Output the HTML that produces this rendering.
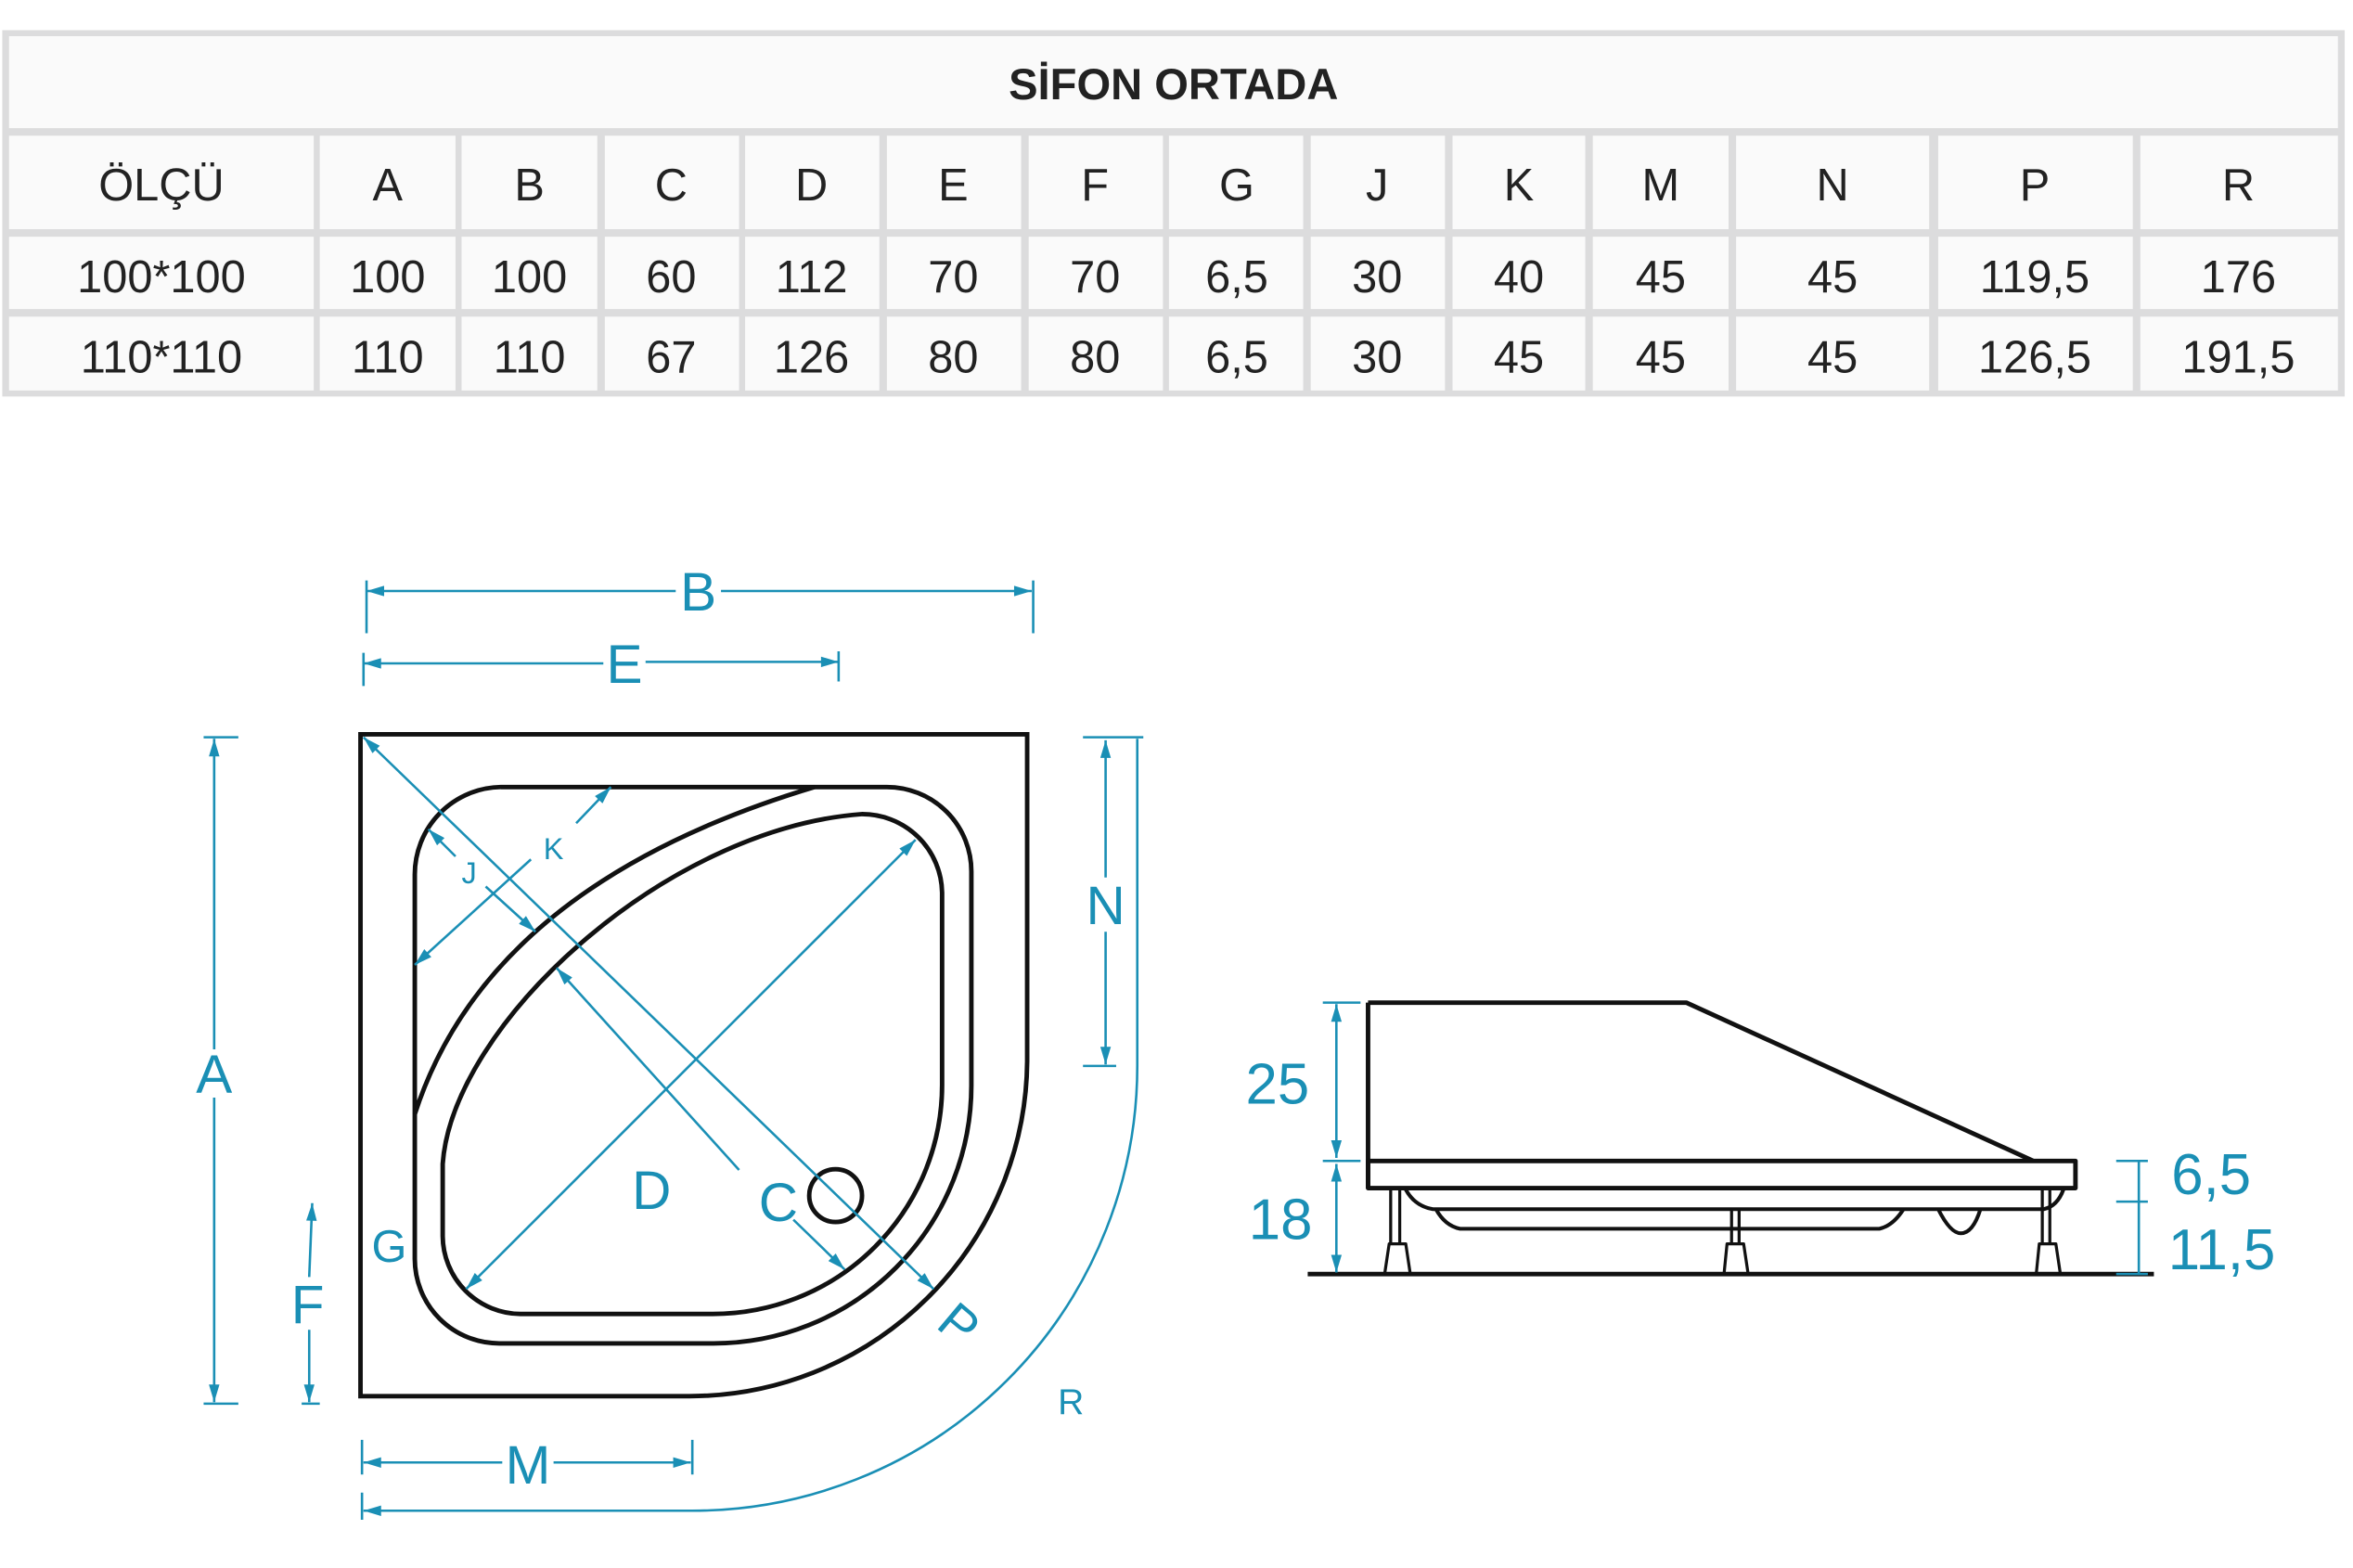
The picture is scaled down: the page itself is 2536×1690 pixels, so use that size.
<!DOCTYPE html>
<html><head><meta charset="utf-8"><style>html,body{margin:0;padding:0;background:#fff}svg{display:block}</style></head>
<body>
<svg width="2536" height="1690" viewBox="0 0 1560 1040" preserveAspectRatio="none" xmlns="http://www.w3.org/2000/svg" font-family="Liberation Sans, sans-serif">
<!-- table -->
<rect x="1.5" y="20" width="1553" height="243" fill="#dcdcdd"/>
<rect x="6" y="24" width="1544" height="61" fill="#fafafa"/>
<text x="778" y="66" font-size="29" font-weight="bold" fill="#222" text-anchor="middle">SİFON ORTADA</text>
<g fill="#fafafa">
<rect x="6" y="90" width="202" height="62"/><rect x="212" y="90" width="90" height="62"/><rect x="306" y="90" width="90" height="62"/><rect x="401" y="90" width="89" height="62"/><rect x="494" y="90" width="89" height="62"/><rect x="588" y="90" width="89" height="62"/><rect x="682" y="90" width="89" height="62"/><rect x="775" y="90" width="89" height="62"/><rect x="869" y="90" width="89" height="62"/><rect x="963" y="90" width="88" height="62"/><rect x="1056" y="90" width="90" height="62"/><rect x="1151" y="90" width="128" height="62"/><rect x="1285" y="90" width="129" height="62"/><rect x="1419" y="90" width="131" height="62"/>
<rect x="6" y="157" width="202" height="48"/><rect x="212" y="157" width="90" height="48"/><rect x="306" y="157" width="90" height="48"/><rect x="401" y="157" width="89" height="48"/><rect x="494" y="157" width="89" height="48"/><rect x="588" y="157" width="89" height="48"/><rect x="682" y="157" width="89" height="48"/><rect x="775" y="157" width="89" height="48"/><rect x="869" y="157" width="89" height="48"/><rect x="963" y="157" width="88" height="48"/><rect x="1056" y="157" width="90" height="48"/><rect x="1151" y="157" width="128" height="48"/><rect x="1285" y="157" width="129" height="48"/><rect x="1419" y="157" width="131" height="48"/>
<rect x="6" y="210" width="202" height="49"/><rect x="212" y="210" width="90" height="49"/><rect x="306" y="210" width="90" height="49"/><rect x="401" y="210" width="89" height="49"/><rect x="494" y="210" width="89" height="49"/><rect x="588" y="210" width="89" height="49"/><rect x="682" y="210" width="89" height="49"/><rect x="775" y="210" width="89" height="49"/><rect x="869" y="210" width="89" height="49"/><rect x="963" y="210" width="88" height="49"/><rect x="1056" y="210" width="90" height="49"/><rect x="1151" y="210" width="128" height="49"/><rect x="1285" y="210" width="129" height="49"/><rect x="1419" y="210" width="131" height="49"/>
</g>
<g font-size="30" fill="#222" text-anchor="middle">
<text x="107" y="133">ÖLÇÜ</text><text x="257" y="133">A</text><text x="351" y="133">B</text><text x="445" y="133">C</text><text x="538" y="133">D</text><text x="632" y="133">E</text><text x="726" y="133">F</text><text x="820" y="133">G</text><text x="913" y="133">J</text><text x="1007" y="133">K</text><text x="1101" y="133">M</text><text x="1215" y="133">N</text><text x="1349" y="133">P</text><text x="1484" y="133">R</text>
<text x="107" y="194">100*100</text><text x="257" y="194">100</text><text x="351" y="194">100</text><text x="445" y="194">60</text><text x="538" y="194">112</text><text x="632" y="194">70</text><text x="726" y="194">70</text><text x="820" y="194">6,5</text><text x="913" y="194">30</text><text x="1007" y="194">40</text><text x="1101" y="194">45</text><text x="1215" y="194">45</text><text x="1349" y="194">119,5</text><text x="1484" y="194">176</text>
<text x="107" y="247">110*110</text><text x="257" y="247">110</text><text x="351" y="247">110</text><text x="445" y="247">67</text><text x="538" y="247">126</text><text x="632" y="247">80</text><text x="726" y="247">80</text><text x="820" y="247">6,5</text><text x="913" y="247">30</text><text x="1007" y="247">45</text><text x="1101" y="247">45</text><text x="1215" y="247">45</text><text x="1349" y="247">126,5</text><text x="1484" y="247">191,5</text>
</g>
<defs><marker id="ar" viewBox="0 0 10 6" refX="10" refY="3" markerWidth="17" markerHeight="7" markerUnits="userSpaceOnUse" orient="auto-start-reverse"><path d="M0,0 L10,3 L0,6 z" fill="#1a8fb5"/></marker></defs>
<!-- plan view black -->
<g fill="none" stroke="#111" stroke-width="3">
<path d="M239,487 H681 V704 A224,224 0 0 1 457,926 H239 Z"/>
<path d="M332,522 H588 A56,56 0 0 1 644,578 V720 A171,171 0 0 1 473,891 H331 A56,56 0 0 1 275,835 V580 A58,58 0 0 1 332,522 Z"/>
<path d="M275,739 Q324,587 540,522"/>
<path d="M293.5,772 V820 A52,52 0 0 0 345,871.5 H472.6 A152,152 0 0 0 624.6,719 V592 A53,53 0 0 0 571,540 C440,550 300,680 293.5,772 Z"/>
<circle cx="554" cy="793" r="17.5"/>
</g>
<!-- blue dims plan -->
<g fill="none" stroke="#1a8fb5" stroke-width="1.6">
<line x1="241" y1="489" x2="619" y2="855" marker-start="url(#ar)" marker-end="url(#ar)"/>
<line x1="369" y1="642" x2="490" y2="776" marker-start="url(#ar)"/>
<line x1="526" y1="809" x2="560" y2="842" marker-end="url(#ar)"/>
<line x1="309" y1="855" x2="607" y2="557" marker-start="url(#ar)" marker-end="url(#ar)"/>
<line x1="275" y1="640" x2="352" y2="570" marker-start="url(#ar)"/>
<line x1="382" y1="546" x2="405" y2="522" marker-end="url(#ar)"/>
<line x1="284" y1="550" x2="302" y2="568" marker-start="url(#ar)"/>
<line x1="322" y1="588" x2="355" y2="618" marker-end="url(#ar)"/>
<line x1="142" y1="490" x2="142" y2="696" marker-start="url(#ar)"/><line x1="142" y1="728" x2="142" y2="930" marker-end="url(#ar)"/>
<line x1="135" y1="489" x2="158" y2="489"/><line x1="135" y1="931" x2="158" y2="931"/>
<line x1="207" y1="798" x2="205" y2="847" marker-start="url(#ar)"/><line x1="205" y1="882" x2="205" y2="930" marker-end="url(#ar)"/>
<line x1="200" y1="931" x2="212" y2="931"/>
<line x1="243" y1="392" x2="448" y2="392" marker-start="url(#ar)"/><line x1="478" y1="392" x2="684" y2="392" marker-end="url(#ar)"/>
<line x1="243" y1="385" x2="243" y2="420"/><line x1="685" y1="385" x2="685" y2="420"/>
<line x1="241" y1="440" x2="400" y2="440" marker-start="url(#ar)"/><line x1="428" y1="439" x2="556" y2="439" marker-end="url(#ar)"/>
<line x1="241" y1="433" x2="241" y2="455"/><line x1="556" y1="432" x2="556" y2="452"/>
<line x1="241" y1="970" x2="333" y2="970" marker-start="url(#ar)"/><line x1="367" y1="970" x2="458" y2="970" marker-end="url(#ar)"/>
<line x1="240" y1="955" x2="240" y2="978"/><line x1="459" y1="955" x2="459" y2="978"/>
<line x1="733" y1="491" x2="733" y2="582" marker-start="url(#ar)"/><line x1="733" y1="618" x2="733" y2="706" marker-end="url(#ar)"/>
<line x1="718" y1="489" x2="758" y2="489"/><line x1="718" y1="707" x2="740" y2="707"/>
<path d="M754,490 V707 A295,295 0 0 1 459,1002 H241" marker-end="url(#ar)"/>
<line x1="240" y1="990" x2="240" y2="1008"/>
</g>
<g fill="#1a8fb5" text-anchor="middle">
<text x="463" y="405" font-size="36">B</text>
<text x="414" y="453" font-size="36">E</text>
<text x="142" y="725" font-size="36">A</text>
<text x="204" y="878" font-size="36">F</text>
<text x="258" y="837" font-size="30">G</text>
<text x="350" y="984" font-size="36">M</text>
<text x="733" y="613" font-size="36">N</text>
<text x="432" y="802" font-size="36">D</text>
<text x="516" y="810" font-size="36">C</text>
<text x="636" y="890" font-size="34" transform="rotate(40 636 878)">P</text>
<text x="710" y="938" font-size="24">R</text>
<text x="367" y="570" font-size="20">K</text>
<text x="311" y="586" font-size="20">J</text>
</g>
<!-- side view -->
<g fill="none" stroke="#111" stroke-width="3" stroke-linejoin="round">
<path d="M907,665 H1118 L1348,770"/>
<line x1="907" y1="665" x2="907" y2="788"/>
<rect x="907" y="770" width="469" height="18"/>
<line x1="867" y1="845" x2="1428" y2="845"/>
<path d="M932,789 Q938,800 950,802 H1355 Q1364,800 1368,789" stroke-width="2.5"/>
<path d="M952,802 Q958,813 968,815 H1246 Q1255,813 1262,802" stroke-width="2.5"/>
<path d="M1285,802 Q1293,818 1300,818 Q1308,818 1313,802" stroke-width="2.5"/>
<g stroke-width="2">
<line x1="922" y1="789" x2="922" y2="825"/><line x1="928" y1="789" x2="928" y2="825"/>
<path d="M918,845 L921,825 H932 L935,845"/>
<line x1="1148" y1="802" x2="1148" y2="825"/><line x1="1153" y1="802" x2="1153" y2="825"/>
<path d="M1143,845 L1145,825 H1156 L1159,845"/>
<line x1="1354" y1="789" x2="1354" y2="825"/><line x1="1359" y1="789" x2="1359" y2="825"/>
<path d="M1350,845 L1352,825 H1363 L1366,845"/>
</g>
</g>
<g fill="none" stroke="#1a8fb5" stroke-width="1.6">
<line x1="886" y1="666" x2="886" y2="768" marker-start="url(#ar)" marker-end="url(#ar)"/>
<line x1="886" y1="772" x2="886" y2="844" marker-start="url(#ar)" marker-end="url(#ar)"/>
<line x1="877" y1="665" x2="902" y2="665"/><line x1="877" y1="770" x2="902" y2="770"/>
<line x1="1418" y1="770" x2="1418" y2="845"/>
<line x1="1403" y1="770" x2="1424" y2="770"/><line x1="1403" y1="797" x2="1424" y2="797"/><line x1="1403" y1="845" x2="1424" y2="845"/>
</g>
<g fill="#1a8fb5" font-size="38" text-anchor="middle">
<text x="847" y="732">25</text><text x="849" y="822">18</text>
<text x="1466" y="792">6,5</text><text x="1473" y="842">11,5</text>
</g>
</svg>
</body></html>
